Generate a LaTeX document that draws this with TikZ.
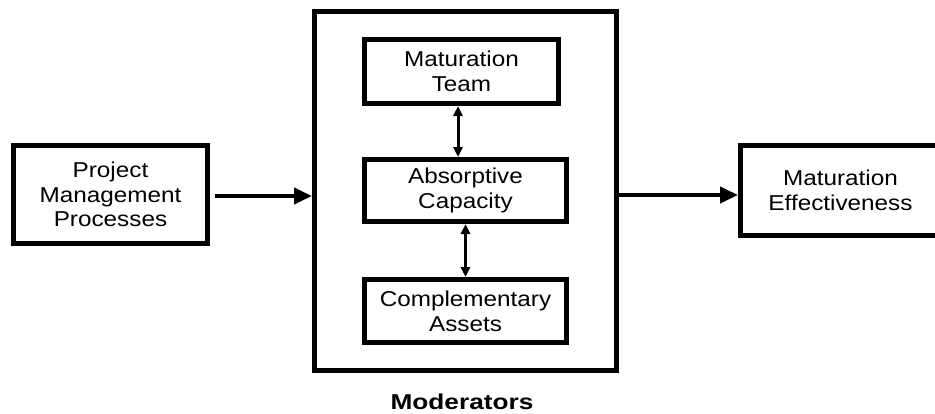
\documentclass[tikz,border=0pt]{standalone}
\usepackage{fontspec}
\setmainfont{Liberation Sans}
\newfontfamily\boxfont[FakeStretch=1.13]{Liberation Sans}
\newfontfamily\modfont[FakeStretch=1.22]{Liberation Sans}
\usetikzlibrary{arrows.meta,calc}
\begin{document}
\begin{tikzpicture}[x=1pt,y=-1pt,
  box/.style={draw,line width=5pt,rectangle,align=center,inner sep=0pt,
    font=\boxfont\fontsize{21.5}{24.8}\selectfont},
  arr/.style={line width=4pt,-{Triangle[length=18pt,width=16pt]}},
  dbl/.style={line width=3pt,{Triangle[length=10pt,width=9pt]}-{Triangle[length=10pt,width=9pt]}}]
\path[use as bounding box] (0,0) rectangle (935,413);
\clip (0,0) rectangle (935,413);
\node[box,minimum width=194pt,minimum height=98pt] (pmp) at (110.5,194.5) {Project\\Management\\Processes};
\node[box,minimum width=302pt,minimum height=359pt] (mod) at (465.5,191) {};
\node[box,minimum width=194pt,minimum height=64pt] (mt) at (461.5,71.5) {Maturation\\Team};
\node[box,minimum width=202pt,minimum height=62pt] (ac) at (465.5,190.5) {Absorptive\\Capacity};
\node[box,minimum width=202pt,minimum height=63pt] (ca) at (465.5,311) {Complementary\\Assets};
\node[box,minimum width=210pt,minimum height=90pt,text width=200pt] (me) at (845.5,190.5) {\hspace*{-10pt}Maturation\\\hspace*{-10pt}Effectiveness};
\node[anchor=base,font=\modfont\bfseries\fontsize{21.5}{24}\selectfont] (lbl) at (462,409) {Moderators};
\coordinate (x1) at (458,0);
\draw[arr,shorten <=5pt] ([yshift=-1.5pt]pmp.east) -- ([yshift=-1.5pt]pmp.east -| mod.west);
\draw[arr] ([yshift=-4pt]mod.east) -- ([yshift=-4pt]mod.east -| me.west);
\draw[dbl] (mt.south -| x1) -- (ac.north -| x1);
\draw[dbl] (ac.south) -- (ca.north);
\end{tikzpicture}
\end{document}
